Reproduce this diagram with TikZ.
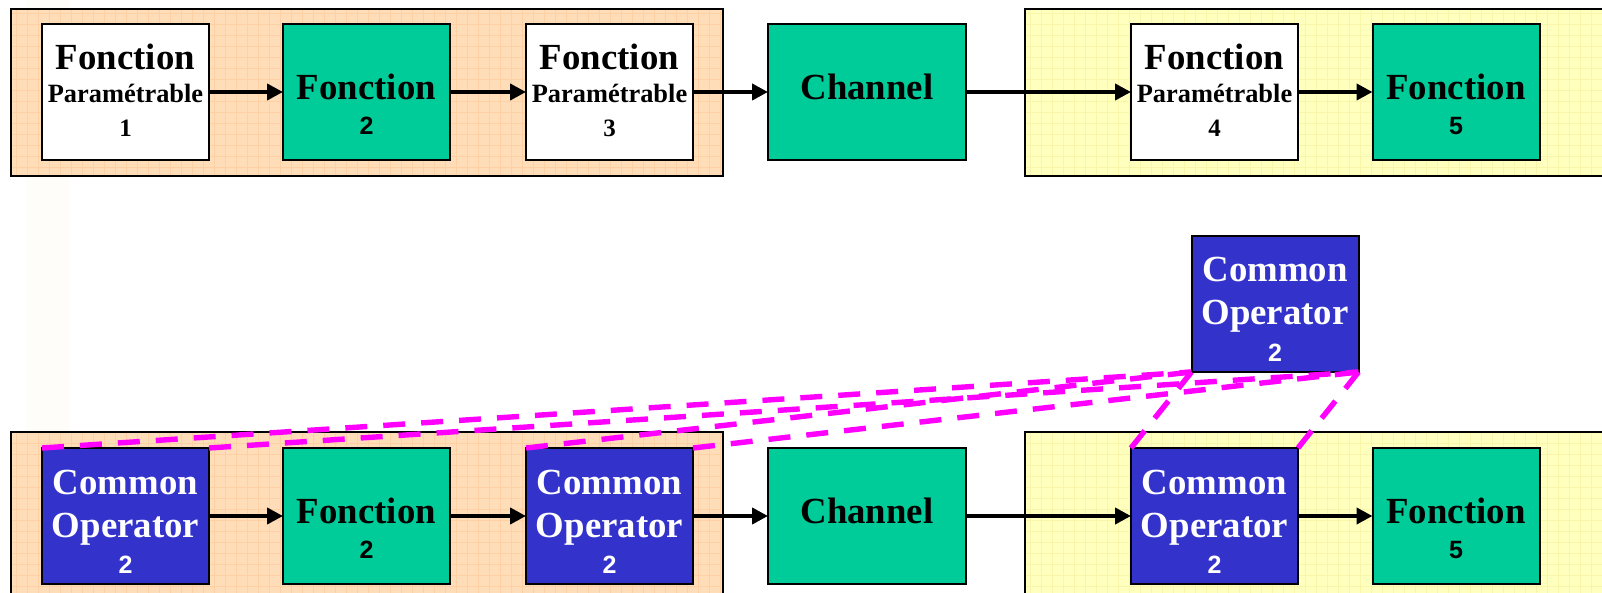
\documentclass[tikz,border=0pt]{standalone}
\usepackage{fontspec}
\setmainfont{Liberation Serif}
\newfontfamily\numsans{Liberation Sans}
\usetikzlibrary{arrows.meta}
\definecolor{boxgreen}{HTML}{00CC99}
\definecolor{opblue}{HTML}{3333CC}
\definecolor{dashmag}{HTML}{FF00FF}
\definecolor{peach}{HTML}{FFDDB8}
\definecolor{peachgrid}{HTML}{FFD0A4}
\definecolor{paleyellow}{HTML}{FFFFBE}
\definecolor{yellowgrid}{HTML}{F9F6AC}
\definecolor{faintband}{HTML}{FEFDF9}
\tikzset{
  blk/.style={draw=black, line width=1pt, minimum width=83.5pt, minimum height=68pt, inner sep=0pt, outer sep=0pt},
  parambox/.style={blk, fill=white},
  fnbox/.style={blk, fill=boxgreen},
  chbox/.style={blk, fill=boxgreen, minimum width=99pt},
  opbox/.style={blk, fill=opblue},
  bigtxt/.style={anchor=base, inner sep=0pt, font=\fontsize{18.4}{20}\selectfont\bfseries},
  midtxt/.style={anchor=base, inner sep=0pt, font=\fontsize{13.2}{15}\selectfont\bfseries},
  numserif/.style={anchor=base, inner sep=0pt, font=\fontsize{12.5}{14}\selectfont\bfseries},
  numsansst/.style={anchor=base, inner sep=0pt, font=\fontsize{12.5}{14}\selectfont\numsans\bfseries},
  whitetxt/.style={text=white},
  flow/.style={draw=black, line width=2pt, -{Triangle[length=8pt,width=8pt]}},
  link/.style={draw=dashmag, line width=2.7pt, dash pattern=on 11pt off 8pt},
  contour/.style={draw=black, line width=1pt}
}
\begin{document}
\begin{tikzpicture}[x=0.5pt,y=-0.5pt]
\useasboundingbox (0,0) rectangle (1602,593);
\fill[white] (0,0) rectangle (1602,593);
\fill[faintband] (27,0) rectangle (70,593);

% containers
\fill[peach] (11,9) rectangle (722.5,176);
\fill[peach] (11,432) rectangle (722.5,620);
\fill[paleyellow] (1025,9) rectangle (1620,176);
\fill[paleyellow] (1025,432) rectangle (1620,620);
\begin{scope}
  \clip (11,9) rectangle (722.5,176) (11,432) rectangle (722.5,620);
  \foreach \gx in {16,27,...,722} {\draw[peachgrid, line width=0.5pt] (\gx,0) -- (\gx,600);}
  \foreach \gy in {14,25,...,600} {\draw[peachgrid, line width=0.5pt] (0,\gy) -- (730,\gy);}
\end{scope}
\begin{scope}
  \clip (1025,9) rectangle (1620,176) (1025,432) rectangle (1620,620);
  \foreach \gx in {1030,1041,...,1602} {\draw[yellowgrid, line width=0.5pt] (\gx,0) -- (\gx,600);}
  \foreach \gy in {14,25,...,600} {\draw[yellowgrid, line width=0.5pt] (1020,\gy) -- (1610,\gy);}
\end{scope}
\draw[contour] (11,9) rectangle (722.5,176);
\draw[contour] (11,432) rectangle (722.5,620);
\draw[contour] (1640,9) -- (1025,9) -- (1025,176) -- (1640,176);
\draw[contour] (1640,432) -- (1025,432) -- (1025,620);

% top row boxes
\node[parambox] (b1) at (125.5,92) {};
\node[fnbox]    (b2) at (366.5,92) {};
\node[parambox] (b3) at (609.5,92) {};
\node[chbox]    (ch) at (867,92) {};
\node[parambox] (b4) at (1214.5,92) {};
\node[fnbox]    (b5) at (1456,92) {};

\node[bigtxt] (b1a) at (125.5,70) {Fonction};
\node[midtxt] (b1b) at (125.5,103) {Paramétrable};
\node[numserif] (b1c) at (125.5,137) {1};
\node[bigtxt] (b2a) at (366.5,99.6) {Fonction};
\node[numsansst] (b2b) at (366.5,134.6) {2};
\node[bigtxt] (b3a) at (609.5,70) {Fonction};
\node[midtxt] (b3b) at (609.5,103) {Paramétrable};
\node[numserif] (b3c) at (609.5,137) {3};
\node[bigtxt] (cha) at (867,99.6) {Channel};
\node[bigtxt] (b4a) at (1214.5,70) {Fonction};
\node[midtxt] (b4b) at (1214.5,103) {Paramétrable};
\node[numserif] (b4c) at (1214.5,137) {4};
\node[bigtxt] (b5a) at (1456,99.6) {Fonction};
\node[numsansst] (b5b) at (1456,134.6) {5};

\draw[flow] (b1) -- (b2);
\draw[flow] (b2) -- (b3);
\draw[flow] (b3) -- (ch);
\draw[flow] (ch) -- (b4);
\draw[flow] (b4) -- (b5);

% bottom row boxes
\node[opbox] (c1) at (125.5,516) {};
\node[fnbox] (f2) at (366.5,516) {};
\node[opbox] (c3) at (609.5,516) {};
\node[chbox] (ch2) at (867,516) {};
\node[opbox] (c4) at (1214.5,516) {};
\node[fnbox] (f5) at (1456,516) {};
\node[opbox] (top) at (1275,304) {};

% dashed links
\draw[link] (c1.north west) -- (top.south west);
\draw[link] (c1.north east) -- (top.south east);
\draw[link] (c3.north west) -- (top.south west);
\draw[link] (c3.north east) -- (top.south east);
\draw[link] (c4.north west) -- (top.south west);
\draw[link] (c4.north east) -- (top.south east);

\node[bigtxt, whitetxt] (c1a) at (125.5,494) {Common};
\node[bigtxt, whitetxt] (c1b) at (125.5,537) {Operator};
\node[numsansst, whitetxt] (c1c) at (125.5,573.5) {2};
\node[bigtxt] (f2a) at (366.5,523.6) {Fonction};
\node[numsansst] (f2b) at (366.5,558.6) {2};
\node[bigtxt, whitetxt] (c3a) at (609.5,494) {Common};
\node[bigtxt, whitetxt] (c3b) at (609.5,537) {Operator};
\node[numsansst, whitetxt] (c3c) at (609.5,573.5) {2};
\node[bigtxt] (ch2a) at (867,523.6) {Channel};
\node[bigtxt, whitetxt] (c4a) at (1214.5,494) {Common};
\node[bigtxt, whitetxt] (c4b) at (1214.5,537) {Operator};
\node[numsansst, whitetxt] (c4c) at (1214.5,573.5) {2};
\node[bigtxt] (f5a) at (1456,523.6) {Fonction};
\node[numsansst] (f5b) at (1456,558.6) {5};
\node[bigtxt, whitetxt] (topa) at (1275,282) {Common};
\node[bigtxt, whitetxt] (topb) at (1275,325) {Operator};
\node[numsansst, whitetxt] (topc) at (1275,361.5) {2};

\draw[flow] (c1) -- (f2);
\draw[flow] (f2) -- (c3);
\draw[flow] (c3) -- (ch2);
\draw[flow] (ch2) -- (c4);
\draw[flow] (c4) -- (f5);
\end{tikzpicture}
\end{document}
